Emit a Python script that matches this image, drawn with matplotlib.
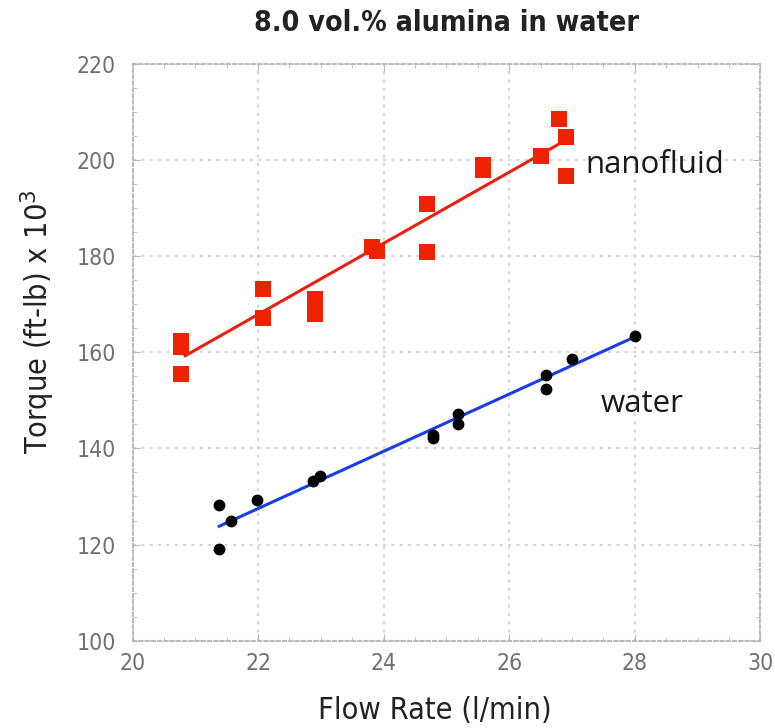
import matplotlib.pyplot as plt
from matplotlib.ticker import MultipleLocator

# nanofluid (red squares)
nano_x = [20.78, 20.78, 20.78, 22.08, 22.08, 22.91, 22.91, 23.82, 23.9,
          24.69, 24.69, 25.59, 25.59, 26.5, 26.8, 26.91, 26.91]
nano_y = [162.3, 161.2, 155.4, 173.1, 167.2, 171.1, 168.0, 181.9, 181.1,
          190.9, 180.9, 199.0, 198.0, 200.8, 208.6, 204.8, 196.8]
nano_fit_x = [20.84, 26.92]
nano_fit_y = [159.3, 204.3]

# water (black dots)
water_x = [21.38, 21.38, 21.57, 21.98, 22.88, 22.99, 24.78, 24.78, 25.19,
           25.19, 26.59, 26.59, 27.0, 28.01]
water_y = [128.2, 119.1, 125.0, 129.2, 133.3, 134.2, 142.9, 142.2, 147.1,
           145.0, 155.3, 152.3, 158.6, 163.5]
water_fit_x = [21.38, 27.93]
water_fit_y = [123.8, 162.8]

narrow = dict(family='DejaVu Sans', stretch='condensed')

fig = plt.figure(figsize=(7.75, 7.28), dpi=100)
ax = fig.add_axes([0.171, 0.12, 0.81, 0.792])

ax.plot(nano_fit_x, nano_fit_y, color='#e5220f', lw=2.2, zorder=2)
ax.plot(nano_x, nano_y, 's', color='#ee2200', ms=11, mew=0, zorder=3)
ax.plot(water_fit_x, water_fit_y, color='#1a3de6', lw=2.2, zorder=2)
ax.plot(water_x, water_y, 'o', color='black', ms=8.5, mew=0, zorder=3)

ax.set_xlim(20, 30)
ax.set_ylim(100, 220)
ax.xaxis.set_major_locator(MultipleLocator(2))
ax.xaxis.set_minor_locator(MultipleLocator(0.5))
ax.yaxis.set_major_locator(MultipleLocator(20))
ax.yaxis.set_minor_locator(MultipleLocator(5))
ax.tick_params(which='both', direction='in', top=True, right=True,
               color='#bbbbbb', labelcolor='#707070', labelsize=16.5)
ax.tick_params(axis='x', pad=8)
ax.tick_params(axis='y', pad=12)
ax.tick_params(which='major', length=5)
ax.tick_params(which='minor', length=3)
for lab in ax.get_xticklabels() + ax.get_yticklabels():
    lab.set_family(narrow['family'])
    lab.set_stretch(narrow['stretch'])

ax.grid(True, which='major', color='#d8d8d8', ls=(0, (1.5, 2.5)), lw=1.5)
for s in ax.spines.values():
    s.set_color('#bbbbbb')
    s.set_linestyle((0, (1.5, 1.5)))
    s.set_linewidth(1.5)

ax.set_title('8.0 vol.% alumina in water', fontsize=20.5, fontweight='bold',
             color='#222222', pad=24, **narrow)
ax.set_xlabel('Flow Rate (l/min)', fontsize=22, color='#222222', **narrow)
ax.set_ylabel('Torque (ft-lb) x 10$^3$', fontsize=22, color='#222222',
              **narrow)
ax.xaxis.set_label_coords(0.482, -0.096)
ax.yaxis.set_label_coords(-0.12, 0.553)

ax.text(27.21, 198.9, 'nanofluid', family='Open Sans', fontsize=22.5,
        va='center', color='#1a1a1a')
ax.text(27.45, 149.2, 'water', family='Open Sans', fontsize=22.5,
        va='center', color='#1a1a1a')

fig.savefig('out.png', dpi=100)
